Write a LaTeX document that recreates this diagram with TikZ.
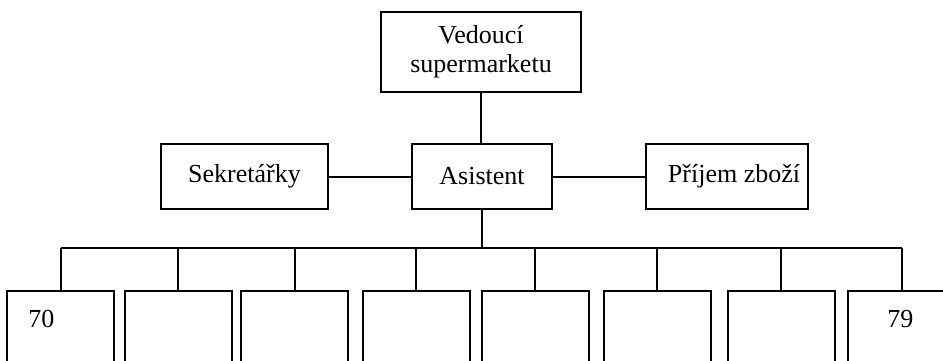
\documentclass[tikz,border=0pt]{standalone}
\usepackage{fontspec}
\setmainfont{Liberation Serif}
\begin{document}
\begin{tikzpicture}[x=0.5pt,y=-0.5pt,
  every node/.style={font=\fontsize{13}{14.5}\selectfont},
  orgbox/.style={draw,line width=1pt,inner sep=0pt,minimum height=32.5pt,align=center},
  unitbox/.style={draw,line width=1pt,inner sep=0pt,anchor=north,minimum width=53.5pt,minimum height=45pt},
  wire/.style={line width=1pt}]
\useasboundingbox (0,0) rectangle (943,360);
\clip (0,0) rectangle (943,360);
\fill[white] (0,0) rectangle (943,360);

% management levels
\node[orgbox,minimum width=100pt,minimum height=40pt] (head) at (481,52) {Vedoucí\\supermarketu};
\node[orgbox,minimum width=83.5pt] (secr) at (244.5,176.5) {Sekretářky};
\node[orgbox,minimum width=70pt] (asst) at (482,176.5) {Asistent};
\node[orgbox,minimum width=81pt] (recv) at (727,176.5) {\hspace*{7pt}Příjem zboží};

% departments 70 .. 79
\foreach \cx [count=\i] in {60.5,178,294.5,416,535,657,781,901.5}
  \node[unitbox] (u\i) at (\cx,290) {};
\node[anchor=base west,inner sep=0pt] (n70) at (28,327) {70};
\node[anchor=base west,inner sep=0pt] (n79) at (887,327) {79};

% connectors
\draw[wire] (head.south) -- (head.south |- asst.north);
\draw[wire] (secr.east) -- (asst.west);
\draw[wire] (asst.east) -- (recv.west);
\coordinate (bus) at (482,248);
\draw[wire] (asst.south) -- (bus);
\draw[wire] (u1.north |- bus) -- (u8.north |- bus);
\foreach \i in {1,...,8}
  \draw[wire] (u\i.north |- bus) -- (u\i.north);
\end{tikzpicture}
\end{document}
